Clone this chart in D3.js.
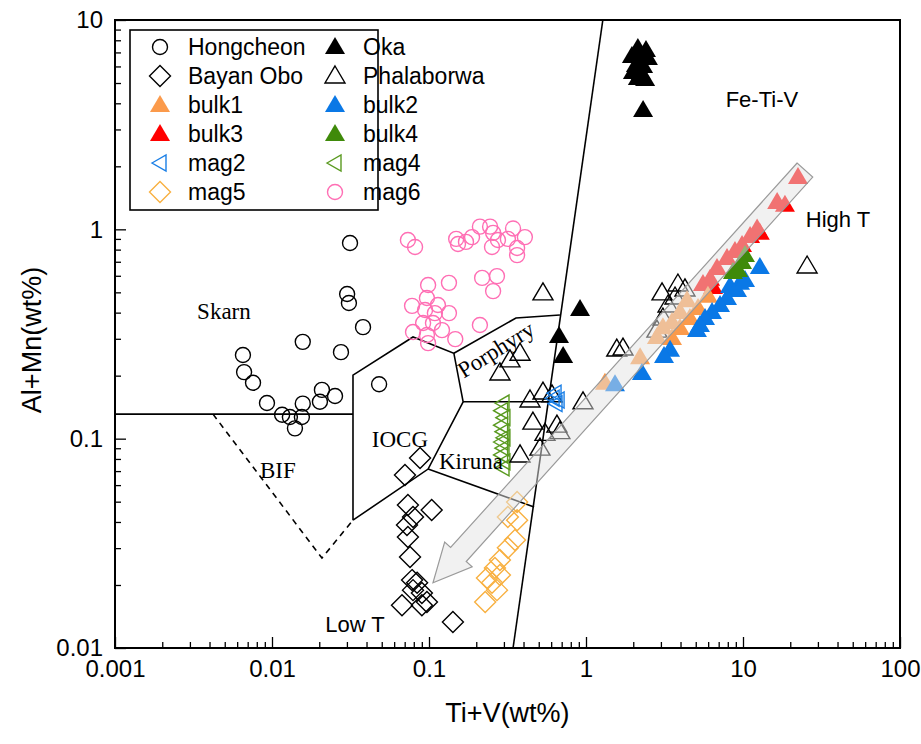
<!DOCTYPE html>
<html>
<head>
<meta charset="utf-8">
<script src="https://cdn.jsdelivr.net/npm/d3@7"></script>
<style>
  body { margin: 0; background: #fff; }
  text { font-family: "Liberation Sans", Arial, sans-serif; fill: #000; }
  .serif { font-family: "Liberation Serif", "Times New Roman", serif; }
</style>
</head>
<body>
<svg id="chart" width="921" height="744"></svg>
<script>
// Data (Ti+V wt%, Al+Mn wt%)
const hongcheon = [[0.0314,0.861],[0.0301,0.491],[0.0309,0.445],[0.0380,0.341],[0.0157,0.290],[0.0275,0.259],[0.00653,0.251],[0.00664,0.208],[0.00757,0.185],[0.0481,0.182],[0.00929,0.148],[0.0208,0.171],[0.0252,0.160],[0.0202,0.150],[0.0157,0.147],[0.0116,0.130],[0.0130,0.127],[0.0155,0.127],[0.0140,0.112]];
const bayanObo = [[0.0877,0.0809],[0.0703,0.0670],[0.0734,0.0482],[0.104,0.0456],[0.0791,0.0423],[0.0724,0.0387],[0.0734,0.0339],[0.0757,0.0272],[0.0780,0.0211],[0.0840,0.0205],[0.0791,0.0189],[0.0901,0.0183],[0.0970,0.0166],[0.0673,0.0160],[0.0901,0.0160],[0.142,0.0133]];
const oka = [[2.14,7.35],[2.41,7.19],[1.96,6.73],[2.24,6.59],[2.48,6.59],[2.08,6.10],[2.31,6.03],[1.99,5.64],[2.24,5.58],[2.14,5.28],[2.38,5.23],[2.31,3.72],[0.916,0.416],[0.673,0.309],[0.715,0.248]];
const phalaborwa = [[0.532,0.497],[0.380,0.256],[0.328,0.238],[0.283,0.206],[0.440,0.153],[0.532,0.167],[0.607,0.162],[0.957,0.150],[0.459,0.120],[0.653,0.116],[0.682,0.108],[0.548,0.106],[0.509,0.0901],[0.380,0.0836],[1.57,0.268],[1.72,0.271],[3.05,0.497],[3.85,0.548],[4.27,0.519],[25.6,0.668],[3.33,0.435],[3.09,0.377],[2.83,0.330],[3.69,0.475]];
const bulk1 = [[4.40,0.459],[3.97,0.403],[3.53,0.361],[3.09,0.341],[2.83,0.306],[2.21,0.245],[1.32,0.185],[3.53,0.303],[3.97,0.338],[4.59,0.377],[5.17,0.421],[5.98,0.481]];
const bulk2 = [[12.8,0.661],[9.16,0.513],[8.26,0.536],[7.91,0.470],[7.14,0.435],[6.35,0.403],[5.73,0.377],[5.09,0.330],[5.32,0.349],[3.43,0.266],[3.14,0.248],[2.27,0.206],[1.53,0.182],[9.57,0.555],[10.3,0.573]];
const bulk3 = [[22.4,1.78],[16.5,1.35],[12.3,1.01],[11.1,0.929],[9.86,0.841],[8.89,0.789],[7.91,0.729],[6.83,0.653],[6.17,0.580],[5.56,0.548],[18.5,1.31],[12.8,0.962],[6.44,0.531]];
const bulk4 = [[10.3,0.753],[9.86,0.698],[8.63,0.625],[9.29,0.640]];
const mag2 = [[0.617,0.156],[0.635,0.165],[0.644,0.147],[0.664,0.153]];
const mag4 = [[0.296,0.148],[0.29,0.136],[0.30,0.126],[0.29,0.116],[0.296,0.108],[0.30,0.101],[0.29,0.0964],[0.296,0.0901],[0.29,0.0836],[0.30,0.0775],[0.296,0.0725]];
const mag5 = [[0.364,0.0498],[0.318,0.0423],[0.364,0.0408],[0.353,0.0328],[0.318,0.0301],[0.283,0.0263],[0.263,0.0241],[0.234,0.0216],[0.283,0.0223],[0.252,0.0205],[0.271,0.0189],[0.228,0.0166]];
const mag6 = [[0.0734,0.889],[0.0815,0.824],[0.149,0.900],[0.153,0.851],[0.172,0.871],[0.188,0.918],[0.211,1.03],[0.245,1.03],[0.256,0.962],[0.252,0.824],[0.275,0.889],[0.318,0.900],[0.343,1.01],[0.364,0.815],[0.408,0.918],[0.364,0.753],[0.218,0.586],[0.271,0.598],[0.256,0.507],[0.134,0.555],[0.0987,0.542],[0.0970,0.470],[0.0780,0.431],[0.0944,0.412],[0.114,0.435],[0.109,0.398],[0.134,0.398],[0.0917,0.357],[0.106,0.357],[0.121,0.330],[0.0791,0.323],[0.0970,0.313],[0.147,0.299],[0.211,0.349],[0.0987,0.286]];

// Field boundaries
const steepLine = [[1.28,10],[0.343,0.01]];
const skarnLine = [[0.001,0.131],[0.0328,0.131]];
const bifLine = [[0.00421,0.131],[0.0208,0.0269],[0.0328,0.0408]];
const iocgLine = [[0.0328,0.0408],[0.0328,0.201],[0.0791,0.306],[0.144,0.256],[0.165,0.150],[0.0987,0.0716],[0.0328,0.0408]];
const porphyryLine = [[0.144,0.256],[0.358,0.377],[0.682,0.390]];
const porphyryBase = [[0.165,0.150],[0.573,0.150]];
const kirunaLine = [[0.0987,0.0716],[0.467,0.0472]];

// Arrow (tail, tip)
const arrowTail = [24.8, 1.92];
const arrowTip = [0.106, 0.0205];

// Field labels
const fieldLabels = [
  {text: 'Skarn', x: 0.00494, y: 0.403, serif: true},
  {text: 'IOCG', x: 0.0653, y: 0.0987, serif: true},
  {text: 'BIF', x: 0.0109, y: 0.0708, serif: true},
  {text: 'Kiruna', x: 0.185, y: 0.0775, serif: true},
  {text: 'Porphyry', x: 0.267, y: 0.266, serif: true, rotate: -32},
  {text: 'Fe-Ti-V', x: 13.2, y: 4.15},
  {text: 'High T', x: 40.3, y: 1.11},
  {text: 'Low T', x: 0.0338, y: 0.0129}
];

const xTicks = [0.001, 0.01, 0.1, 1, 10, 100];
const xTickLabels = ['0.001', '0.01', '0.1', '1', '10', '100'];
const yTicks = [0.01, 0.1, 1, 10];
const yTickLabels = ['0.01', '0.1', '1', '10'];

// Layout
const plotLeft = 115, plotRight = 900, plotTop = 20, plotBottom = 648;
const svg = d3.select('#chart');

const x = d3.scaleLog().domain([0.001, 100]).range([plotLeft, plotRight]);
const y = d3.scaleLog().domain([0.01, 10]).range([plotBottom, plotTop]);

// Marker shapes
const shapes = {
  circle: 'M7.5,0A7.5,7.5,0,1,1,-7.5,0A7.5,7.5,0,1,1,7.5,0Z',
  triangle: 'M0,-10L10,7L-10,7Z',
  diamond: 'M0,-10.5L10.5,0L0,10.5L-10.5,0Z',
  left: 'M-8,0L6,-8L6,8Z'
};

const series = [
  {name: 'Hongcheon', data: hongcheon, shape: 'circle', fill: 'none', stroke: '#000'},
  {name: 'Oka', data: oka, shape: 'triangle', fill: '#000', stroke: 'none'},
  {name: 'Bayan Obo', data: bayanObo, shape: 'diamond', fill: 'none', stroke: '#000'},
  {name: 'Phalaborwa', data: phalaborwa, shape: 'triangle', fill: 'none', stroke: '#000'},
  {name: 'bulk1', data: bulk1, shape: 'triangle', fill: '#fb9a4b', stroke: 'none'},
  {name: 'bulk2', data: bulk2, shape: 'triangle', fill: '#0a78e6', stroke: 'none'},
  {name: 'bulk3', data: bulk3, shape: 'triangle', fill: '#ff0000', stroke: 'none'},
  {name: 'bulk4', data: bulk4, shape: 'triangle', fill: '#3f8a0a', stroke: 'none'},
  {name: 'mag2', data: mag2, shape: 'left', fill: 'none', stroke: '#1a7fe6'},
  {name: 'mag4', data: mag4, shape: 'left', fill: 'none', stroke: '#5a9a20'},
  {name: 'mag5', data: mag5, shape: 'diamond', fill: 'none', stroke: '#f8b040'},
  {name: 'mag6', data: mag6, shape: 'circle', fill: 'none', stroke: '#ff6eb4'}
];

// Field boundary lines
const line = d3.line().x(d => x(d[0])).y(d => y(d[1]));
const boundaries = svg.append('g')
  .attr('fill', 'none')
  .attr('stroke', '#000')
  .attr('stroke-width', 1.6);
[steepLine, skarnLine, iocgLine, porphyryLine, porphyryBase, kirunaLine].forEach(pts => {
  boundaries.append('path').attr('d', line(pts));
});
boundaries.append('path')
  .attr('d', line(bifLine))
  .attr('stroke-dasharray', '6,5');

// Points (draw order roughly as in the original)
const drawOrder = ['Hongcheon', 'mag6', 'Bayan Obo', 'mag5', 'mag4', 'Phalaborwa', 'mag2', 'Oka', 'bulk3', 'bulk1', 'bulk2', 'bulk4'];
drawOrder.forEach(name => {
  const s = series.find(d => d.name === name);
  svg.append('g')
    .selectAll('path')
    .data(s.data)
    .join('path')
      .attr('d', shapes[s.shape])
      .attr('transform', d => `translate(${x(d[0])},${y(d[1])})`)
      .attr('fill', s.fill)
      .attr('stroke', s.stroke)
      .attr('stroke-width', 1.4);
});

// Translucent arrow band drawn over the points
const t = [x(arrowTail[0]), y(arrowTail[1])];
const p = [x(arrowTip[0]), y(arrowTip[1])];
const len = Math.hypot(p[0] - t[0], p[1] - t[1]);
const u = [(p[0] - t[0]) / len, (p[1] - t[1]) / len];
const n = [-u[1], u[0]];
const hw = 10.5, hh = 18.5, headLen = 38;
const b = [p[0] - u[0] * headLen, p[1] - u[1] * headLen];
const off = (pt, k) => [pt[0] + n[0] * k, pt[1] + n[1] * k];
const arrowPts = [off(t, hw), off(b, hw), off(b, hh), p, off(b, -hh), off(b, -hw), off(t, -hw)];
svg.append('path')
  .attr('d', 'M' + arrowPts.map(d => d.join(',')).join('L') + 'Z')
  .attr('fill', 'rgb(228,228,228)')
  .attr('fill-opacity', 0.5)
  .attr('stroke', '#9a9a9a')
  .attr('stroke-width', 1.2);

// Field labels
fieldLabels.forEach(l => {
  svg.append('text')
    .attr('class', l.serif ? 'serif' : null)
    .attr('transform', `translate(${x(l.x)},${y(l.y)}) rotate(${l.rotate || 0})`)
    .attr('text-anchor', 'middle')
    .attr('dominant-baseline', 'central')
    .style('font-size', l.serif ? '23px' : '22px')
    .text(l.text);
});

// Axes (ticks pointing inward)
const minorTicks = axisScale => {
  const out = [];
  const [lo, hi] = axisScale.domain();
  for (let dec = lo; dec < hi; dec *= 10) {
    for (let k = 2; k <= 9; k++) out.push(dec * k);
  }
  return out;
};

svg.append('g')
  .attr('transform', `translate(0,${plotBottom})`)
  .call(d3.axisBottom(x).tickValues(xTicks).tickSize(-11).tickPadding(12)
    .tickFormat((d, i) => xTickLabels[i]));
svg.append('g')
  .attr('transform', `translate(0,${plotBottom})`)
  .call(d3.axisBottom(x).tickValues(minorTicks(x)).tickSize(-6).tickFormat(''));

svg.append('g')
  .attr('transform', `translate(${plotLeft},0)`)
  .call(d3.axisLeft(y).tickValues(yTicks).tickSize(-11).tickPadding(12)
    .tickFormat((d, i) => yTickLabels[i]));
svg.append('g')
  .attr('transform', `translate(${plotLeft},0)`)
  .call(d3.axisLeft(y).tickValues(minorTicks(y)).tickSize(-6).tickFormat(''));

svg.selectAll('.domain').remove();
svg.selectAll('.tick line').attr('stroke', '#000').attr('stroke-width', 1.3);
svg.selectAll('.tick text').style('font-size', '24px').attr('fill', '#000')
  .style('font-family', '"Liberation Sans", Arial, sans-serif');

// Frame
svg.append('rect')
  .attr('x', plotLeft).attr('y', plotTop)
  .attr('width', plotRight - plotLeft).attr('height', plotBottom - plotTop)
  .attr('fill', 'none')
  .attr('stroke', '#000')
  .attr('stroke-width', 2);

// Axis titles
svg.append('text')
  .attr('x', (plotLeft + plotRight) / 2)
  .attr('y', 713)
  .attr('text-anchor', 'middle')
  .attr('dominant-baseline', 'central')
  .style('font-size', '27px')
  .text('Ti+V(wt%)');
svg.append('text')
  .attr('transform', `translate(32,${(plotTop + plotBottom) / 2 + 6}) rotate(-90)`)
  .attr('text-anchor', 'middle')
  .attr('dominant-baseline', 'central')
  .style('font-size', '27px')
  .text('Al+Mn(wt%)');

// Legend
const legend = svg.append('g');
legend.append('rect')
  .attr('x', 130).attr('y', 30)
  .attr('width', 248).attr('height', 180)
  .attr('fill', '#fff')
  .attr('stroke', '#000')
  .attr('stroke-width', 1.6);

const legendItems = legend.selectAll('g.item')
  .data(series)
  .join('g')
    .attr('class', 'item')
    .attr('transform', (d, i) => `translate(${i % 2 === 0 ? 160 : 335},${47 + Math.floor(i / 2) * 29})`);
legendItems.append('path')
  .attr('d', d => shapes[d.shape])
  .attr('fill', d => d.fill)
  .attr('stroke', d => d.stroke)
  .attr('stroke-width', 1.4);
legendItems.append('text')
  .attr('x', 28)
  .attr('dominant-baseline', 'central')
  .style('font-size', '23px')
  .text(d => d.name);
</script>
</body>
</html>
